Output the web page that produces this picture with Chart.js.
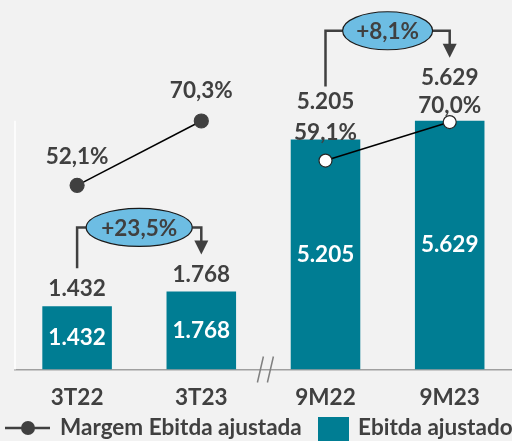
<!DOCTYPE html>
<html>
<head>
<meta charset="utf-8">
<script src="https://cdn.jsdelivr.net/npm/chart.js@4"></script>
<style>
  html, body { margin: 0; padding: 0; background: #f2f2f2; overflow: hidden; }
  #wrap { width: 512px; height: 441px; overflow: hidden; }
</style>
</head>
<body>
<div id="wrap"><canvas id="chart" width="520" height="441"></canvas></div>
<script>
const categories = ['3T22', '3T23', '9M22', '9M23'];
const ebitda = [1432, 1768, 5205, 5629];
const margem = [52.1, 70.3, 59.1, 70.0];
const ebitdaLabels = ['1.432', '1.768', '5.205', '5.629'];
const margemLabels = ['52,1%', '70,3%', '59,1%', '70,0%'];
const growthLabels = ['+23,5%', '+8,1%'];   // 3T23 vs 3T22, 9M23 vs 9M22
const legendLabels = ['Margem Ebitda ajustada', 'Ebitda ajustado'];

const TEXT = '#404040';
const TEAL = '#007d93';
const FONT = 'bold 22.5px Lato';

// extra labels, growth bubbles, axis break and legend
const overlay = {
    id: 'overlay',
    afterDatasetsDraw(chart) {
        const ctx = chart.ctx;
        const bars = chart.getDatasetMeta(1).data;
        const pts = chart.getDatasetMeta(0).data;
        const area = chart.chartArea;
        ctx.save();
        ctx.textAlign = 'center';
        ctx.textBaseline = 'middle';
        ctx.font = FONT;

        // white values inside bars
        ctx.fillStyle = '#ffffff';
        bars.forEach((b, i) => {
            ctx.fillText(ebitdaLabels[i], b.x, (b.y + b.base) / 2);
        });

        // values above bars
        const valueOffset = [17, 17, 38, 43];
        const valueY = [];
        ctx.fillStyle = TEXT;
        bars.forEach((b, i) => {
            valueY[i] = b.y - valueOffset[i];
            ctx.fillText(ebitdaLabels[i], b.x, valueY[i]);
        });

        // margin labels
        const margemY = [pts[0].y - 29, pts[1].y - 30, bars[2].y - 7, bars[3].y - 15];
        pts.forEach((p, i) => {
            ctx.fillText(margemLabels[i], p.x, margemY[i]);
        });

        // growth bubbles
        [[0, 1], [2, 3]].forEach((pair, k) => {
            const l = bars[pair[0]], r = bars[pair[1]];
            const tipY = valueY[pair[1]] - 20;
            const hY = tipY - 27;
            const cx = (l.x + r.x) / 2;
            const rx = k === 0 ? 53 : 45, ry = 19;
            const botY = valueY[pair[0]] - (k === 0 ? 21 : 15);
            ctx.strokeStyle = TEXT;
            ctx.lineWidth = 2.5;
            ctx.beginPath();
            ctx.moveTo(l.x, botY);
            ctx.lineTo(l.x, hY);
            ctx.lineTo(cx - rx, hY);
            ctx.moveTo(cx + rx, hY);
            ctx.lineTo(r.x, hY);
            ctx.lineTo(r.x, tipY - 13);
            ctx.stroke();
            ctx.fillStyle = TEXT;
            ctx.beginPath();
            ctx.moveTo(r.x - 7, tipY - 14);
            ctx.lineTo(r.x + 7, tipY - 14);
            ctx.lineTo(r.x, tipY);
            ctx.closePath();
            ctx.fill();
            ctx.beginPath();
            ctx.ellipse(cx, hY, rx, ry, 0, 0, Math.PI * 2);
            ctx.fillStyle = '#6dbde3';
            ctx.fill();
            ctx.lineWidth = 1.2;
            ctx.strokeStyle = '#1a1a1a';
            ctx.stroke();
            ctx.fillStyle = TEXT;
            ctx.fillText(growthLabels[k], cx, hY + 1);
        });

        // axis break
        const bx = (bars[1].x + bars[2].x) / 2;
        ctx.strokeStyle = '#808080';
        ctx.lineWidth = 1.5;
        ctx.beginPath();
        ctx.moveTo(bx, area.bottom - 13); ctx.lineTo(bx - 6, area.bottom + 13);
        ctx.moveTo(bx + 10, area.bottom - 13); ctx.lineTo(bx + 4, area.bottom + 13);
        ctx.stroke();

        // legend
        const ly = 428;
        ctx.strokeStyle = TEXT;
        ctx.lineWidth = 2.5;
        ctx.beginPath();
        ctx.moveTo(5, ly); ctx.lineTo(50, ly);
        ctx.stroke();
        ctx.fillStyle = TEXT;
        ctx.beginPath();
        ctx.arc(28, ly, 7, 0, Math.PI * 2);
        ctx.fill();
        ctx.textAlign = 'left';
        ctx.fillText(legendLabels[0], 60, ly);
        ctx.fillStyle = TEAL;
        ctx.fillRect(318, 417, 31, 26);
        ctx.fillStyle = TEXT;
        ctx.fillText(legendLabels[1], 358, ly);
        ctx.restore();
    },
    beforeDatasetsDraw(chart) {
        // thin white vertical axis line
        const ctx = chart.ctx;
        const area = chart.chartArea;
        ctx.save();
        ctx.strokeStyle = '#ffffff';
        ctx.lineWidth = 1.5;
        ctx.beginPath();
        ctx.moveTo(area.left, chart.scales.y.getPixelForValue(5629));
        ctx.lineTo(area.left, area.bottom);
        ctx.stroke();
        ctx.restore();
    }
};

new Chart(document.getElementById('chart'), {
    data: {
        labels: categories,
        datasets: [{
            type: 'line',
            label: legendLabels[0],
            data: margem,
            yAxisID: 'y2',
            order: 0,
            borderColor: '#000000',
            borderWidth: 1.5,
            pointRadius: [7, 7, 6.5, 6.5],
            pointBackgroundColor: [TEXT, TEXT, '#ffffff', '#ffffff'],
            pointBorderColor: ['#404040', '#404040', '#262626', '#262626'],
            pointBorderWidth: 1.2,
            segment: {
                borderColor: c => c.p0DataIndex === 1 ? 'rgba(0,0,0,0)' : '#000000'
            }
        }, {
            type: 'bar',
            label: legendLabels[1],
            data: ebitda,
            yAxisID: 'y',
            order: 1,
            backgroundColor: TEAL,
            barPercentage: 0.56,
            categoryPercentage: 1
        }]
    },
    options: {
        responsive: false,
        devicePixelRatio: 1,
        animation: false,
        layout: { padding: { left: 15, right: 5, top: 16, bottom: 14.5 } },
        plugins: { legend: { display: false }, tooltip: { enabled: false } },
        scales: {
            x: {
                grid: { display: false, drawTicks: false },
                border: { color: '#a0a0a0', width: 1.5 },
                ticks: { color: TEXT, font: { family: 'Lato', size: 22.5, weight: 'bold' }, padding: 15 }
            },
            y: { display: false, min: 0, max: 8000 },
            y2: { display: false, min: 0, max: 100 }
        }
    },
    plugins: [overlay]
});
</script>
</body>
</html>
